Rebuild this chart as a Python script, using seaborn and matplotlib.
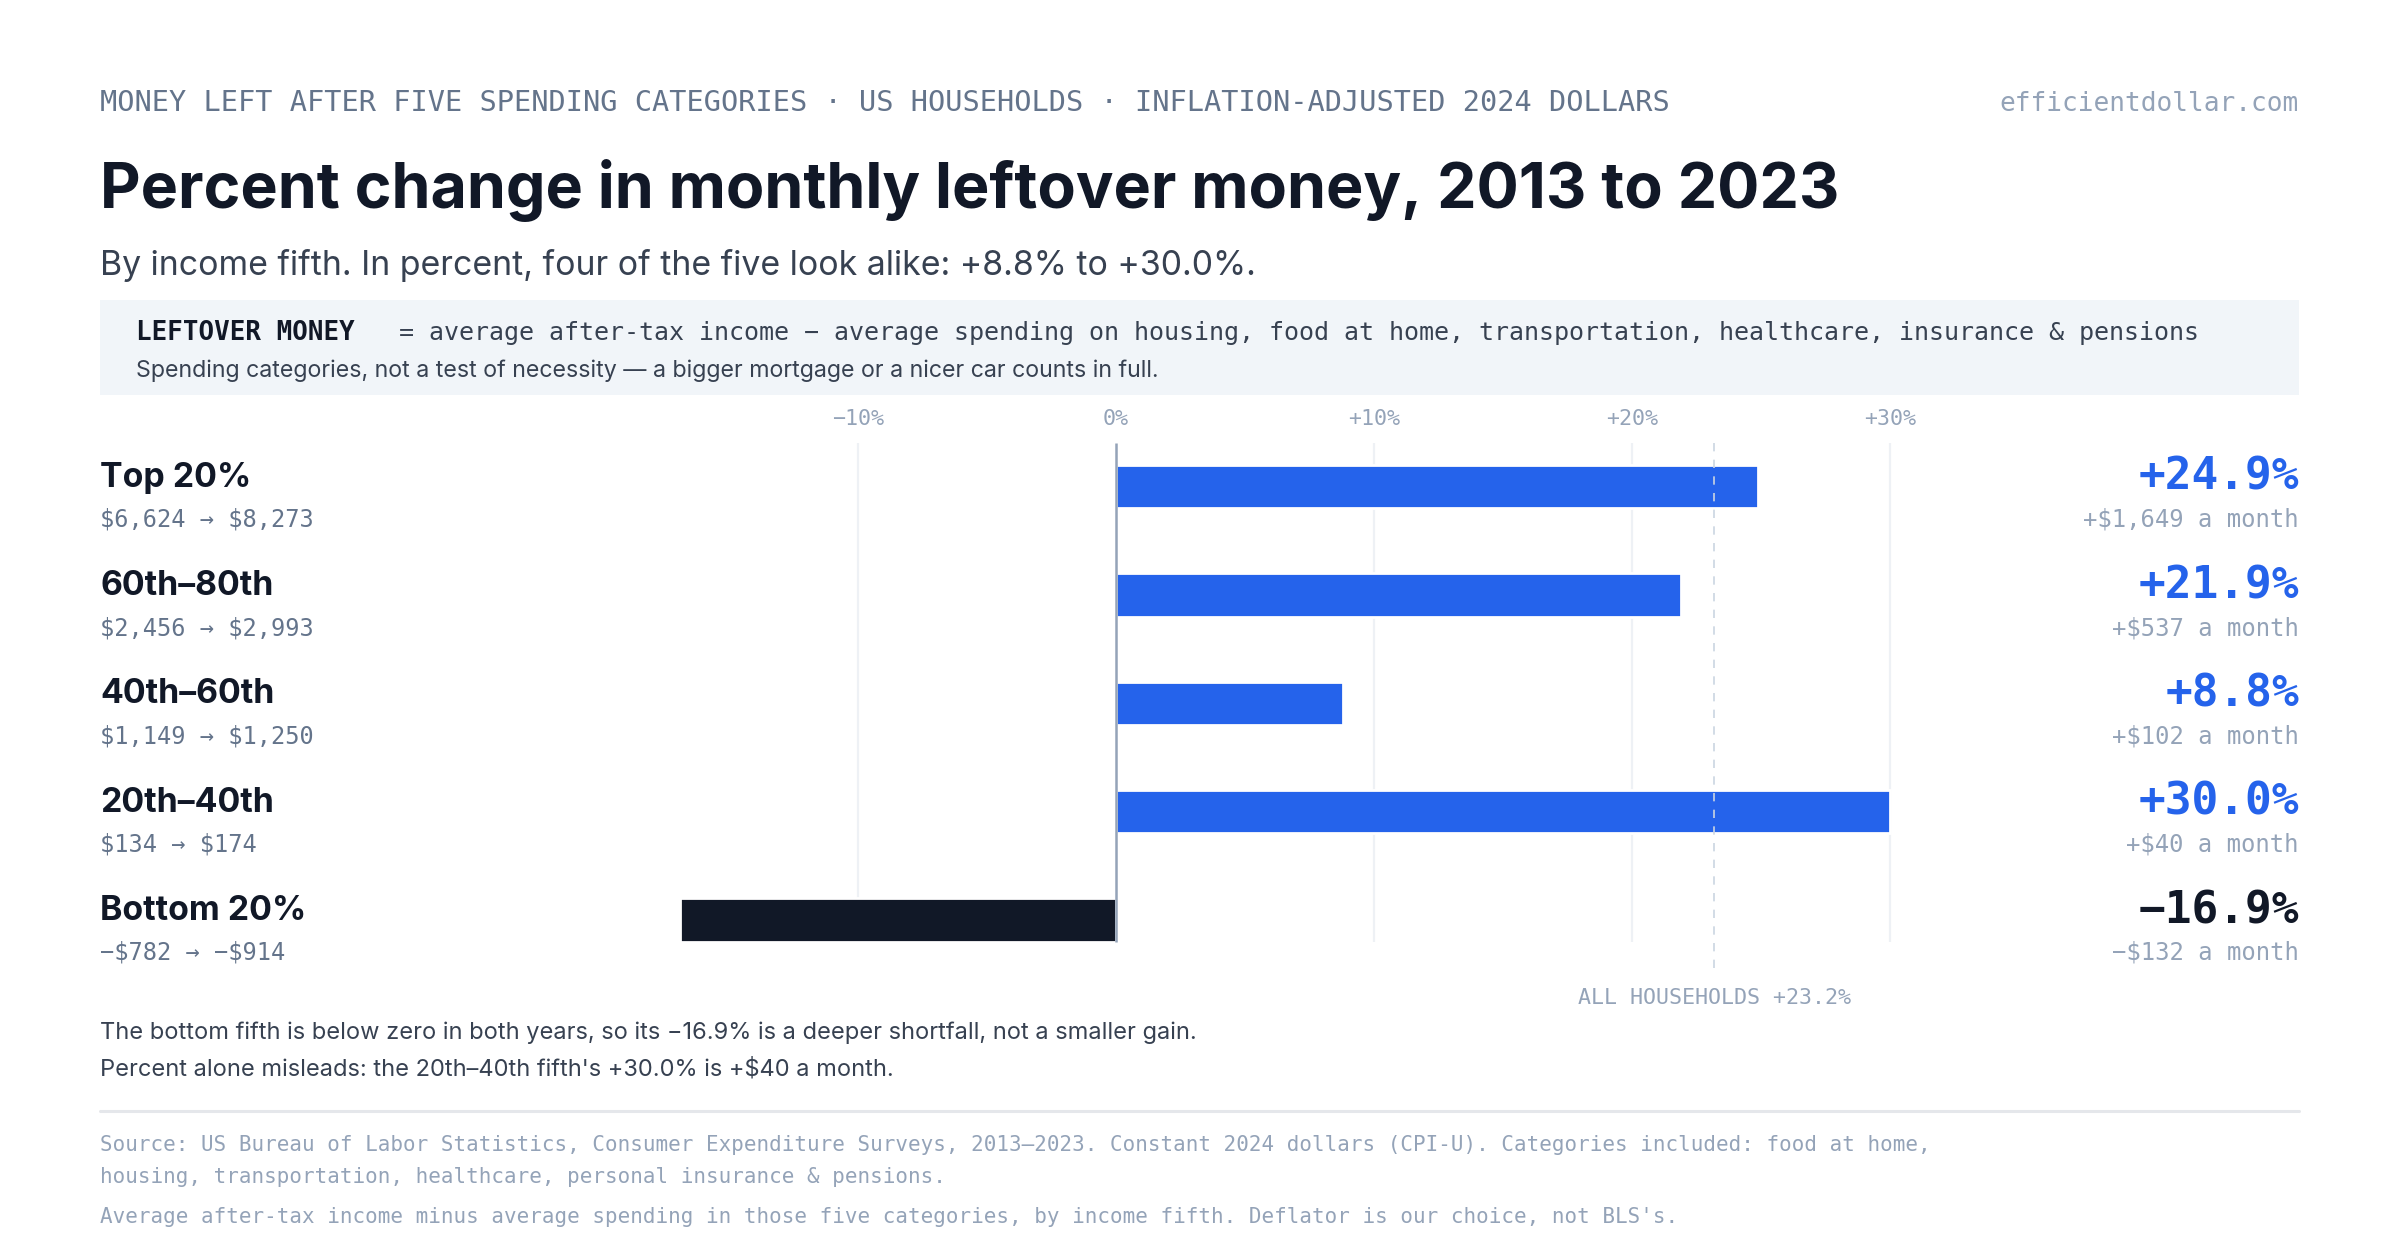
import matplotlib
matplotlib.use("Agg")
import matplotlib.pyplot as plt
import matplotlib.transforms as mtransforms
from matplotlib.patches import Rectangle
import pandas as pd
import seaborn as sns

# data
groups = ["Top 20%", "60th–80th", "40th–60th", "20th–40th", "Bottom 20%"]
pct_change = [24.9, 21.9, 8.8, 30.0, -16.9]
leftover_2013 = [6624, 2456, 1149, 134, -782]
leftover_2023 = [8273, 2993, 1250, 174, -914]
monthly_change = [1649, 537, 102, 40, -132]
all_households = 23.2
tick_values = [-10, 0, 10, 20, 30]
tick_labels = ["−10%", "0%", "+10%", "+20%", "+30%"]

BLUE = "#2563eb"
INK = "#111827"
SLATE = "#64748b"
LIGHT = "#94a3b8"
BODY = "#374151"

sns.set_theme(style="white")
SANS = "Inter"
MONO = "DejaVu Sans Mono"
plt.rcParams["font.family"] = [SANS, "DejaVu Sans"]

W, H = 2400, 1260


def fx(px):
    return px / W


def fy(py):
    return 1 - py / H


def money(v):
    # escaped dollar so mathtext stays off
    return ("−" if v < 0 else "") + f"\\${abs(v):,}"


def signed_money(v):
    return ("−" if v < 0 else "+") + f"\\${abs(v):,}"


def signed_pct(v):
    return ("−" if v < 0 else "+") + f"{abs(v):.1f}%"


df = pd.DataFrame({"group": groups, "pct": pct_change})
bar_colors = [BLUE if v >= 0 else INK for v in pct_change]

fig = plt.figure(figsize=(12, 6.3), dpi=200)
fig.patch.set_facecolor("white")

# chart area: zero at x=1116px, 25.79px per point, rows 108.3px apart
x0_px, px_per_pct = 1116, 25.79
xlim = (-20, 33)
row0_px, row_step = 486.7, 108.3
left_px = x0_px + xlim[0] * px_per_pct
right_px = x0_px + xlim[1] * px_per_pct
top_px = row0_px - 0.5 * row_step
bot_px = row0_px + 4.5 * row_step
ax = fig.add_axes([fx(left_px), fy(bot_px), (right_px - left_px) / W, (bot_px - top_px) / H])

sns.barplot(data=df, x="pct", y="group", hue="group", palette=bar_colors,
            width=0.4, saturation=1, legend=False, orient="h", ax=ax, zorder=2)

ax.set_xlim(*xlim)
ax.set_ylim(4.5, -0.5)
ax.vlines([t for t in tick_values if t != 0], -0.4, 4.2, colors="#eef1f5", lw=0.8, zorder=0)
ax.vlines(0, -0.4, 4.2, colors=LIGHT, lw=0.9, zorder=3)
ax.vlines(all_households, -0.4, 4.44, colors="#cbd5e1", linestyles=(0, (5, 5)), lw=0.6, zorder=4)
ax.text(all_households, 4.78, f"ALL HOUSEHOLDS +{all_households:.1f}%", ha="center", va="baseline",
        fontsize=7.8, color=LIGHT, family=MONO)

ax.xaxis.tick_top()
ax.set_xticks(tick_values, tick_labels)
ax.tick_params(axis="x", length=0, pad=1.3, labelsize=7.8, labelcolor=LIGHT)
for lbl in ax.get_xticklabels():
    lbl.set_fontfamily(MONO)
ax.set_yticks([])
ax.set_xlabel("")
ax.set_ylabel("")
ax.grid(False)
sns.despine(ax=ax, left=True, bottom=True, top=True, right=True)

# row labels on both sides, tied to the category positions
trans = mtransforms.blended_transform_factory(fig.transFigure, ax.transData)
for i, g in enumerate(groups):
    ax.text(fx(100), i, g, transform=trans, ha="left", va="baseline",
            fontsize=12.2, fontweight="bold", color=INK)
    ax.text(fx(100), i + 0.37, f"{money(leftover_2013[i])} → {money(leftover_2023[i])}",
            transform=trans, ha="left", va="baseline", fontsize=8.5, color=SLATE, family=MONO)
    ax.text(fx(2299), i + 0.03, signed_pct(pct_change[i]), transform=trans, ha="right",
            va="baseline", fontsize=16, fontweight="bold", color=bar_colors[i], family=MONO)
    ax.text(fx(2299), i + 0.37, f"{signed_money(monthly_change[i])} a month", transform=trans,
            ha="right", va="baseline", fontsize=8.6, color=LIGHT, family=MONO)

# header
fig.text(fx(100), fy(111), "MONEY LEFT AFTER FIVE SPENDING CATEGORIES · US HOUSEHOLDS · INFLATION-ADJUSTED 2024 DOLLARS",
         ha="left", va="baseline", fontsize=10.3, color=SLATE, family=MONO)
fig.text(fx(2299), fy(111), "efficientdollar.com", ha="right", va="baseline",
         fontsize=9.4, color=LIGHT, family=MONO)
fig.text(fx(100), fy(208), "Percent change in monthly leftover money, 2013 to 2023",
         ha="left", va="baseline", fontsize=22.6, fontweight="bold", color=INK)
fig.text(fx(100), fy(275), "By income fifth. In percent, four of the five look alike: +8.8% to +30.0%.",
         ha="left", va="baseline", fontsize=12.2, color=BODY)

# definition box
fig.patches.append(Rectangle((fx(100), fy(395)), fx(2299) - fx(100), (395 - 300) / H,
                             transform=fig.transFigure, facecolor="#f1f5f9", edgecolor="none", zorder=0))
fig.text(fx(136), fy(340), "LEFTOVER MONEY", ha="left", va="baseline", fontsize=9.3,
         fontweight="bold", color=INK, family=MONO)
fig.text(fx(399), fy(340),
         "= average after-tax income − average spending on housing, food at home, transportation, healthcare, insurance & pensions",
         ha="left", va="baseline", fontsize=9, color=BODY, family=MONO)
fig.text(fx(136), fy(376.5), "Spending categories, not a test of necessity — a bigger mortgage or a nicer car counts in full.",
         ha="left", va="baseline", fontsize=8.35, color=BODY)

# notes
fig.text(fx(100), fy(1039), "The bottom fifth is below zero in both years, so its −16.9% is a deeper shortfall, not a smaller gain.",
         ha="left", va="baseline", fontsize=8.5, color=BODY)
fig.text(fx(100), fy(1076), "Percent alone misleads: the 20th–40th fifth's +30.0% is +\\$40 a month.",
         ha="left", va="baseline", fontsize=8.5, color=BODY)
fig.add_artist(plt.Line2D([fx(100), fx(2299)], [fy(1111), fy(1111)], transform=fig.transFigure,
                          color="#e5e7eb", lw=1.1))

source_lines = [
    (1151, "Source: US Bureau of Labor Statistics, Consumer Expenditure Surveys, 2013–2023. Constant 2024 dollars (CPI-U). Categories included: food at home,"),
    (1183, "housing, transportation, healthcare, personal insurance & pensions."),
    (1223, "Average after-tax income minus average spending in those five categories, by income fifth. Deflator is our choice, not BLS's."),
]
for y, line in source_lines:
    fig.text(fx(100), fy(y), line, ha="left", va="baseline", fontsize=7.5, color=LIGHT, family=MONO)

fig.savefig("out.png", dpi=200, facecolor="white")
